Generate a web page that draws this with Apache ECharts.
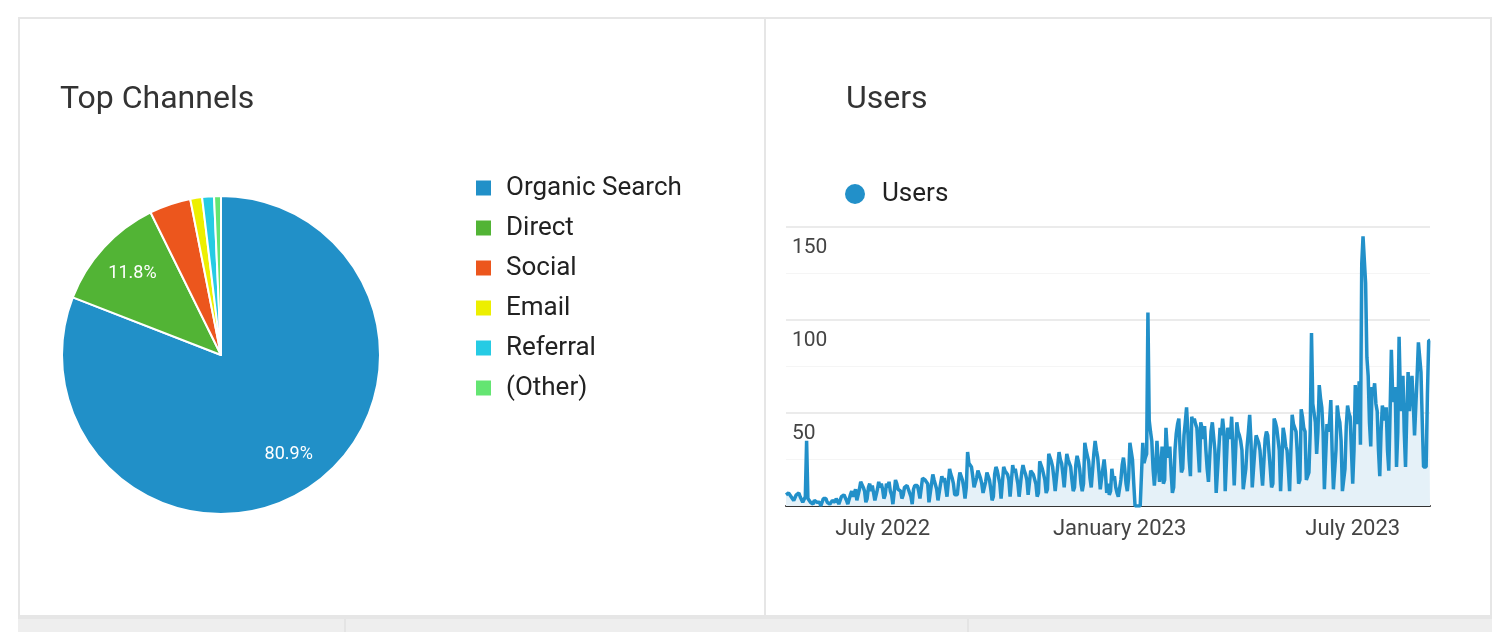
<!DOCTYPE html>
<html style="height: 100%">
<head>
<meta charset="utf-8">
<style>
  body { margin: 0; width: 1492px; height: 632px; background: #fff; position: relative; overflow: hidden; }
  .box { position: absolute; box-sizing: border-box; }
  #container { position: absolute; left: 0; top: 0; width: 1492px; height: 632px; }
</style>
</head>
<body>
<!-- card frame -->
<div class="box" style="left:18px;top:17px;width:1474px;height:600px;border:2px solid #e6e6e6;"></div>
<div class="box" style="left:764px;top:17px;width:2px;height:600px;background:#e6e6e6;"></div>
<div class="box" style="left:18px;top:616px;width:1474px;height:16px;background:#eeeeee;border-top:3px solid #e6e6e6;"></div>
<div class="box" style="left:344px;top:619px;width:2px;height:13px;background:#e4e4e4;"></div>
<div class="box" style="left:967px;top:619px;width:2px;height:13px;background:#e4e4e4;"></div>
<div id="container"></div>
<script type="text/javascript" src="https://cdn.jsdelivr.net/npm/echarts/dist/echarts.min.js"></script>
<script type="text/javascript">
// top channels (percent of sessions)
var channels = ['Organic Search', 'Direct', 'Social', 'Email', 'Referral', '(Other)'];
var channelShare = [80.9, 11.8, 4.2, 1.2, 1.2, 0.7];
var channelColors = ['#2190c8', '#52b435', '#ec561d', '#edef00', '#26cbe4', '#64e572'];

// daily users, 2022-04-17 .. 2023-08-30, one row per week (Sun..Sat)
var startDate = '2022-04-17';
var users = [
    6,5,7,6,5,6,3,
    4,6,5,7,5,4,2,
    3,5,35,4,3,2,1,
    1,3,4,2,3,2,0,
    1,4,3,4,2,3,1,
    0,3,4,2,4,3,1,
    2,5,4,6,5,3,1,
    2,6,8,5,7,9,3,
    3,9,13,12,10,8,2,
    4,10,12,8,11,12,3,
    2,9,13,10,12,9,4,
    6,12,10,13,8,6,1,
    1,14,12,9,10,8,4,
    6,10,9,11,10,7,5,
    1,9,11,10,11,8,4,
    3,15,15,14,15,12,2,
    3,12,17,14,13,9,3,
    4,12,16,13,15,10,5,
    4,20,17,15,12,6,5,
    6,13,18,16,14,10,4,
    10,29,23,22,21,16,10,
    10,15,19,17,15,12,7,
    7,13,18,16,14,9,3,
    5,17,21,19,18,12,4,
    5,21,19,20,17,14,5,
    6,22,18,20,16,12,5,
    5,18,22,19,17,14,6,
    6,19,18,17,16,12,5,
    7,24,22,20,19,14,7,
    9,28,26,24,21,15,8,
    8,22,29,25,23,17,10,
    9,28,25,23,21,14,8,
    10,22,27,24,20,12,8,
    12,34,30,27,24,15,10,
    11,28,35,30,26,18,9,
    9,20,25,18,7,12,6,
    8,20,14,16,10,7,5,
    6,14,22,26,20,12,8,
    15,34,34,25,12,0,0,
    0,0,0,0,34,23,26,
    28,104,46,40,35,20,11,
    20,35,24,13,20,32,12,
    14,42,30,26,32,18,7,
    10,30,39,44,47,30,18,
    20,38,45,53,40,25,16,
    48,45,47,44,42,30,18,
    45,42,36,43,30,20,13,
    13,40,45,44,30,7,8,
    30,42,38,47,40,8,7,
    42,40,36,48,30,11,12,
    45,40,38,35,30,9,10,
    20,32,40,49,35,10,10,
    30,38,36,34,30,20,11,
    12,36,40,38,39,20,10,
    12,47,45,42,42,30,8,
    9,42,38,32,30,20,8,
    30,49,44,42,40,28,12,
    14,52,48,42,40,14,16,
    18,40,93,55,50,45,28,
    40,65,58,53,40,9,10,
    44,40,45,57,30,9,10,
    30,54,48,45,35,8,8,
    20,43,54,50,48,30,12,
    30,65,50,44,67,33,130,
    145,146,120,80,70,45,32,
    64,60,66,55,51,30,16,
    40,54,50,46,53,30,19,
    50,84,60,56,64,21,40,
    91,60,51,70,40,21,50,
    72,51,60,70,55,38,54,
    70,88,80,72,45,21,20,
    21,60,89,89
];
var xTickDates = ['2022-07-01', '2023-01-01', '2023-07-01'];
var xTickLabels = ['July 2022', 'January 2023', 'July 2023'];

// one category per day
var days = [];
var t0 = new Date(startDate + 'T00:00:00Z').getTime();
for (var i = 0; i < users.length; i++) {
    days.push(new Date(t0 + i * 86400000).toISOString().slice(0, 10));
}

var font = 'Roboto, "Liberation Sans", Arial, sans-serif';
var pieData = channels.map(function (name, i) {
    return { name: name, value: channelShare[i], itemStyle: { color: channelColors[i] } };
});

var dom = document.getElementById('container');
var myChart = echarts.init(dom, null, { renderer: 'canvas' });

var option = {
    animation: false,
    textStyle: { fontFamily: font },
    title: [
        { text: 'Top Channels', left: 60, top: 84, padding: 0, textStyle: { fontFamily: font, fontSize: 32, fontWeight: 'normal', color: '#333' } },
        { text: 'Users', left: 846, top: 84, padding: 0, textStyle: { fontFamily: font, fontSize: 32, fontWeight: 'normal', color: '#333' } }
    ],
    legend: [
        {
            data: channels.map(function (n, i) { return { name: n, itemStyle: { color: channelColors[i] } }; }),
            orient: 'vertical',
            left: 474,
            top: 175,
            padding: 0,
            icon: 'rect',
            itemWidth: 17,
            itemHeight: 17,
            itemGap: 14,
            selectedMode: false,
            textStyle: { fontFamily: font, fontSize: 26, color: '#222', padding: [0, 0, 0, 9] }
        },
        {
            data: ['Users'],
            left: 845,
            top: 181,
            padding: 0,
            icon: 'circle',
            itemWidth: 20,
            itemHeight: 20,
            selectedMode: false,
            textStyle: { fontFamily: font, fontSize: 26, color: '#222', padding: [0, 0, 0, 12] }
        }
    ],
    grid: { left: 786, right: 62, top: 227, bottom: 126 },
    xAxis: {
        type: 'category',
        data: days,
        boundaryGap: false,
        axisLine: { lineStyle: { color: '#333', width: 2 } },
        axisTick: { show: false },
        axisLabel: {
            interval: function (idx, val) { return xTickDates.indexOf(val) >= 0; },
            formatter: function (val) { return xTickLabels[xTickDates.indexOf(val)]; },
            fontFamily: font,
            fontSize: 22,
            color: '#444',
            margin: 12
        },
        splitLine: { show: false }
    },
    yAxis: {
        type: 'value',
        min: 0,
        max: 150,
        interval: 50,
        axisLine: { show: false },
        axisTick: { show: false },
        axisLabel: {
            inside: true,
            showMinLabel: false,
            verticalAlign: 'top',
            padding: [10, 0, 0, 0],
            margin: 6,
            fontFamily: font,
            fontSize: 21,
            color: '#444'
        },
        splitLine: { lineStyle: { color: '#ebebeb', width: 2 } },
        minorTick: { show: false, splitNumber: 2 },
        minorSplitLine: { show: true, lineStyle: { color: '#f5f5f5', width: 1 } }
    },
    series: [
        {
            type: 'pie',
            center: [221, 355],
            radius: [0, 159],
            startAngle: 90,
            clockwise: true,
            data: pieData,
            label: { show: false },
            labelLine: { show: false },
            itemStyle: { borderColor: '#fff', borderWidth: 2 },
            emphasis: { disabled: true }
        },
        {
            // transparent ring only used to place the percent labels further out
            type: 'pie',
            center: [221, 355],
            radius: [76, 158],
            startAngle: 90,
            clockwise: true,
            silent: true,
            legendHoverLink: false,
            data: channels.map(function (n, i) { return { name: n, value: channelShare[i] }; }),
            itemStyle: { color: 'rgba(0,0,0,0)', borderWidth: 0 },
            label: {
                show: true,
                position: 'inside',
                fontFamily: font,
                fontSize: 18,
                color: '#fff',
                formatter: function (p) { return p.value >= 10 ? p.value.toFixed(1) + '%' : ''; }
            },
            labelLine: { show: false },
            emphasis: { disabled: true }
        },
        {
            name: 'Users',
            type: 'line',
            data: users,
            showSymbol: false,
            symbol: 'circle',
            color: '#2290c9',
            lineStyle: { color: '#2290c9', width: 3.5 },
            areaStyle: { color: '#e5f1f8', opacity: 1 },
            emphasis: { disabled: true }
        }
    ]
};

myChart.setOption(option);
</script>
</body>
</html>
